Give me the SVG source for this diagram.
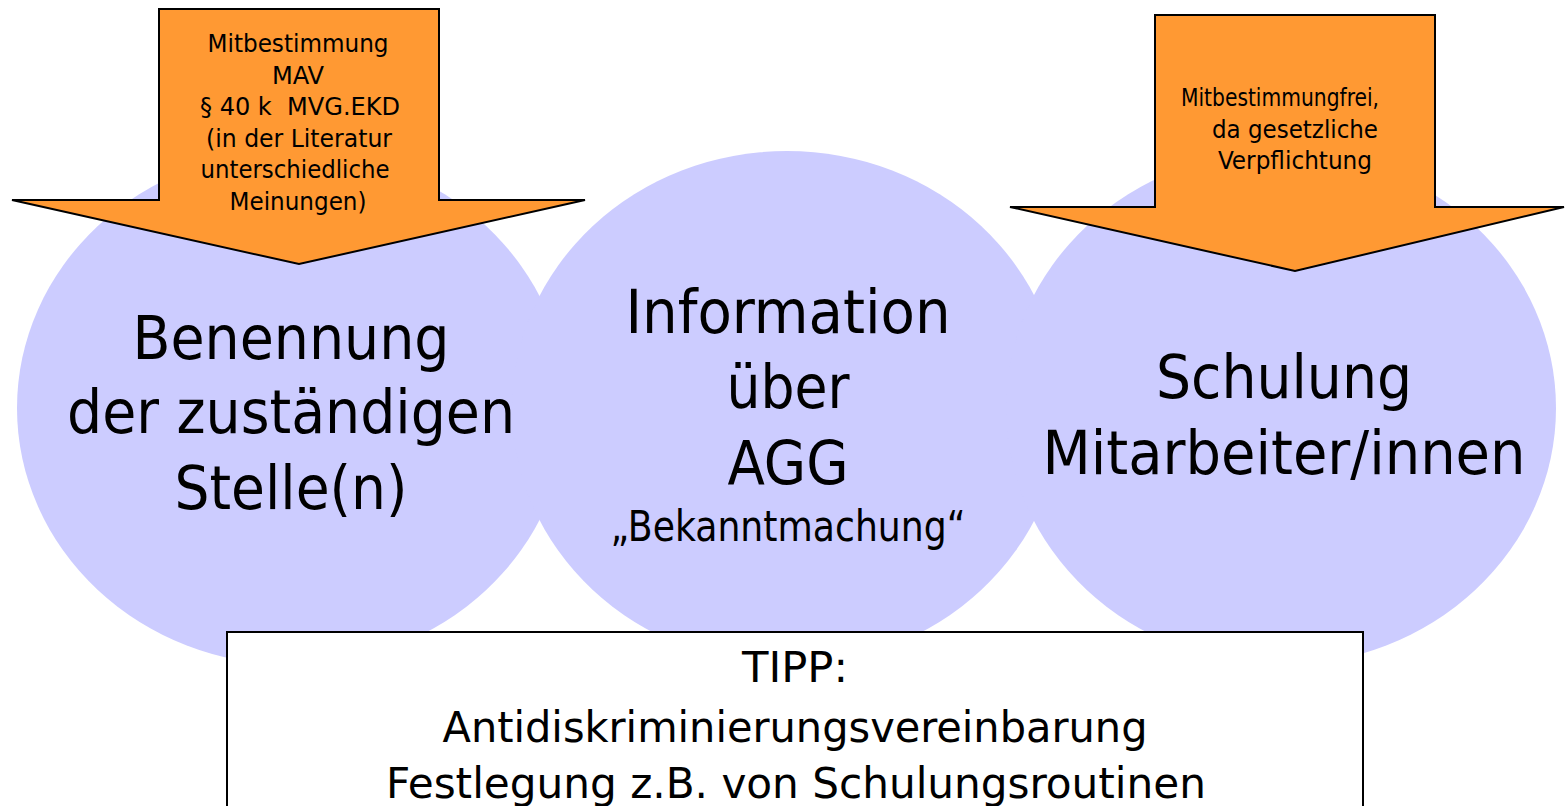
<svg xmlns="http://www.w3.org/2000/svg" width="1565" height="806" viewBox="0 0 1565 806">
<style>
.bub{fill:#CCCCFF;stroke:none}
.arr{fill:#FF9933;stroke:#000;stroke-width:2;stroke-linejoin:miter}
.t{font-family:"DejaVu Sans Condensed","DejaVu Sans",sans-serif;font-stretch:condensed;fill:#000;text-anchor:middle}
.big{font-size:60px}
.sm{font-size:24px}
.mid{font-size:42px}
.box{fill:#fff;stroke:#000;stroke-width:2}
</style>
<rect width="1565" height="806" fill="#fff"/>
<g id="node-benennung">
<ellipse class="bub" cx="292" cy="408" rx="275" ry="257"/>
<text class="t big" x="291" y="359" textLength="317" lengthAdjust="spacingAndGlyphs">Benennung</text>
<text class="t big" x="291" y="433" textLength="448" lengthAdjust="spacingAndGlyphs">der zuständigen</text>
<text class="t big" x="291" y="509" textLength="233" lengthAdjust="spacingAndGlyphs">Stelle(n)</text>
</g>
<g id="node-information">
<ellipse class="bub" cx="787" cy="408" rx="275" ry="257"/>
<text class="t big" x="788" y="333" textLength="325" lengthAdjust="spacingAndGlyphs">Information</text>
<text class="t big" x="788" y="408" textLength="123" lengthAdjust="spacingAndGlyphs">über</text>
<text class="t big" x="788" y="484" textLength="121" lengthAdjust="spacingAndGlyphs">AGG</text>
<text class="t mid" x="788" y="541" textLength="355" lengthAdjust="spacingAndGlyphs">„Bekanntmachung“</text>
</g>
<g id="node-schulung">
<ellipse class="bub" cx="1281" cy="408" rx="275" ry="257"/>
<text class="t big" x="1284" y="398" textLength="256" lengthAdjust="spacingAndGlyphs">Schulung</text>
<text class="t big" x="1284" y="474" textLength="483" lengthAdjust="spacingAndGlyphs">Mitarbeiter/innen</text>
</g>
<g id="node-arrow-mitbestimmung">
<polygon class="arr" points="159,9 439,9 439,200 585,200 299,264 12,200 159,200"/>
<text class="t sm" x="298" y="52" textLength="181" lengthAdjust="spacingAndGlyphs">Mitbestimmung</text>
<text class="t sm" x="298" y="84" textLength="52" lengthAdjust="spacingAndGlyphs">MAV</text>
<text class="t sm" x="300" y="115" xml:space="preserve" textLength="200" lengthAdjust="spacingAndGlyphs">§ 40 k  MVG.EKD</text>
<text class="t sm" x="299" y="147" textLength="186" lengthAdjust="spacingAndGlyphs">(in der Literatur</text>
<text class="t sm" x="295" y="178" textLength="189" lengthAdjust="spacingAndGlyphs">unterschiedliche</text>
<text class="t sm" x="298" y="210" textLength="137" lengthAdjust="spacingAndGlyphs">Meinungen)</text>
</g>
<g id="node-arrow-mitbestimmungfrei">
<polygon class="arr" points="1155,15 1435,15 1435,207 1564,207 1295,271 1010,207 1155,207"/>
<text class="t sm" x="1280" y="106" textLength="198" lengthAdjust="spacingAndGlyphs">Mitbestimmungfrei,</text>
<text class="t sm" x="1295" y="138" textLength="166" lengthAdjust="spacingAndGlyphs">da gesetzliche</text>
<text class="t sm" x="1295" y="169" textLength="154" lengthAdjust="spacingAndGlyphs">Verpflichtung</text>
</g>
<g id="node-tipp">
<rect class="box" x="227" y="632" width="1136" height="190"/>
<text class="t mid" x="795" y="682" textLength="106" lengthAdjust="spacingAndGlyphs">TIPP:</text>
<text class="t mid" x="795" y="742" textLength="705" lengthAdjust="spacingAndGlyphs">Antidiskriminierungsvereinbarung</text>
<text class="t mid" x="796" y="798" textLength="820" lengthAdjust="spacingAndGlyphs">Festlegung z.B. von Schulungsroutinen</text>
</g>
<g id="connectors"/>
</svg>
